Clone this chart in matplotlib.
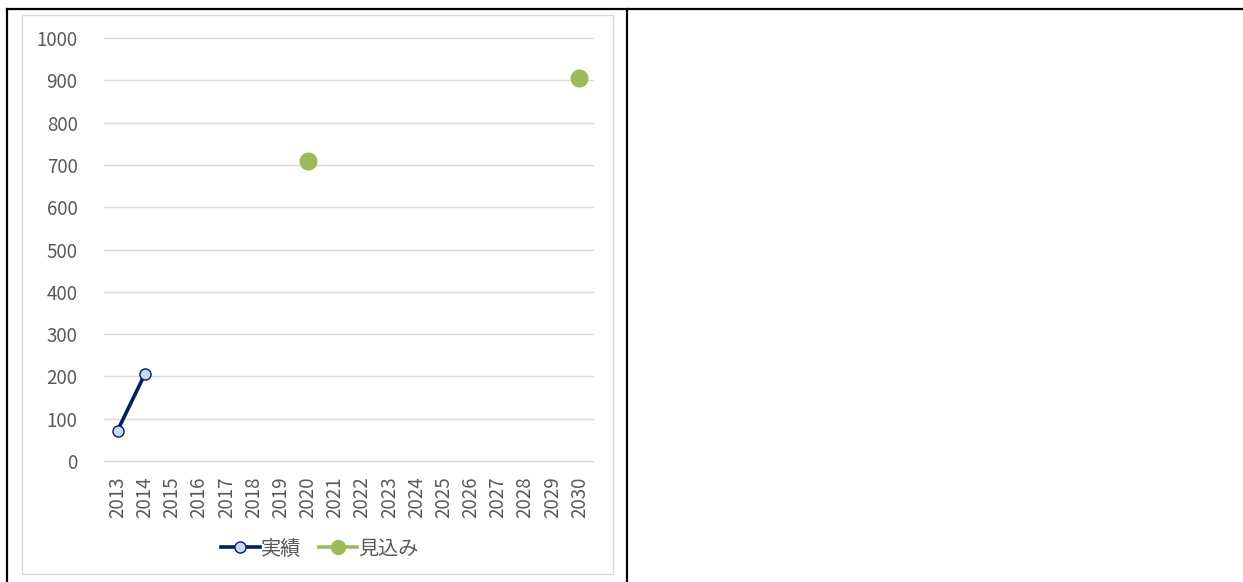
import numpy as np
import matplotlib

matplotlib.use("Agg")
import matplotlib.pyplot as plt
import matplotlib.patches as mpatches
from matplotlib.lines import Line2D

plt.rcParams["font.family"] = ["Noto Sans CJK JP", "DejaVu Sans"]

years = [str(y) for y in range(2013, 2031)]
actual = [72, 205] + [np.nan] * 16
forecast = [np.nan] * 18
forecast[years.index("2020")] = 710
forecast[years.index("2030")] = 905
yticks = list(range(0, 1001, 100))

W, H = 1243, 582
fig = plt.figure(figsize=(W / 100, H / 100), dpi=100)


def fx(px):
    return px / W


def fy(py):
    return 1 - py / H


# table-like outer frame (top, left, divider)
fig.add_artist(Line2D([fx(7), 1.0], [fy(9), fy(9)], color="black", lw=1.6))
fig.add_artist(Line2D([fx(7), fx(7)], [fy(9), 0.0], color="black", lw=1.6))
fig.add_artist(Line2D([fx(627), fx(627)], [fy(9), 0.0], color="black", lw=1.6))

# chart area border
fig.add_artist(
    mpatches.Rectangle(
        (fx(22), fy(574)),
        fx(613) - fx(22),
        fy(15) - fy(574),
        transform=fig.transFigure,
        fill=False,
        edgecolor="#d9d9d9",
        lw=1.0,
    )
)

ax = fig.add_axes([fx(104), fy(461), fx(593) - fx(104), fy(38) - fy(461)])
x = np.arange(len(years))

ax.plot(
    x, actual, color="#002060", lw=2.6, marker="o", markersize=8,
    markerfacecolor="#c6d9f1", markeredgecolor="#002060", markeredgewidth=1.0,
    label="実績", zorder=3,
)
ax.plot(
    x, forecast, color="#9bbb59", lw=2.6, marker="o", markersize=12,
    markerfacecolor="#9bbb59", markeredgecolor="#9bbb59",
    label="見込み", zorder=3,
)

ax.set_xlim(-0.5, len(years) - 0.5)
ax.set_ylim(0, 1000)
ax.set_yticks(yticks)
ax.set_xticks(x)
ax.set_xticklabels(years, rotation=90)
for v in yticks:
    ax.axhline(v, color="#d9d9d9", lw=1.0, zorder=1, clip_on=False)
for s in ax.spines.values():
    s.set_visible(False)
ax.tick_params(axis="both", length=0, labelsize=13.5, labelcolor="#595959")
ax.tick_params(axis="y", pad=19)
ax.tick_params(axis="x", pad=11)

leg = fig.legend(
    loc="center",
    bbox_to_anchor=(fx(320), fy(549)),
    ncol=2,
    frameon=False,
    fontsize=14.5,
    handlelength=1.9,
    handletextpad=0.05,
    columnspacing=0.9,
    labelcolor="#595959",
)
leg.legend_handles[1].set_markersize(10)

fig.savefig("out.png", dpi=100, facecolor="white")
